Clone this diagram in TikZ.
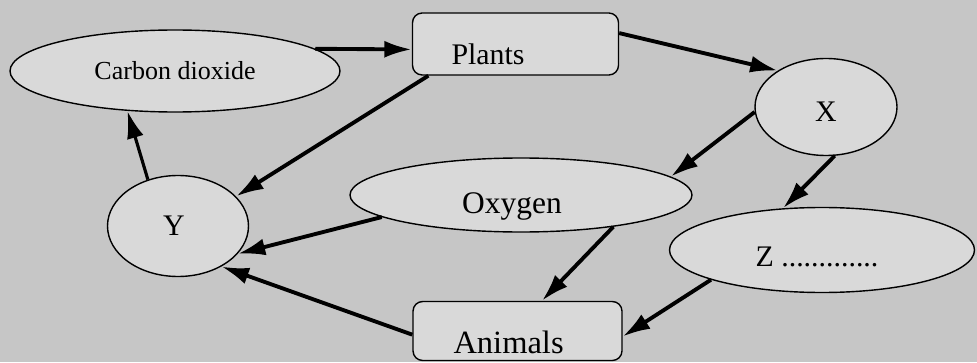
\documentclass[tikz,border=0pt]{standalone}
\usepackage{fontspec}
\setmainfont{Liberation Serif}
\usetikzlibrary{arrows.meta,shapes.geometric}
% 文字在结点内的微移
\newcommand{\nudge}[3]{\raisebox{-#2}[\height][\depth]{\kern#1#3\kern-#1}}
\begin{document}
\begin{tikzpicture}[font=\fontsize{17}{20}\selectfont,
  oval/.style={draw, thick, ellipse, fill=gray!30, inner sep=0pt},
  box/.style={draw, thick, rounded corners=5.5pt, fill=gray!30, minimum width=4.12cm, minimum height=1.24cm, text width=2.56cm, align=left},
  flow/.style={line width=2.2pt, -{Latex[length=5.5mm,width=3.4mm]}}]
  % 背景
  \fill[gray!45] (0,0) rectangle (19.54,7.24);
  \useasboundingbox (0,0) rectangle (19.54,7.24);
  % 椭圆结点
  \node[oval, minimum width=6.6cm, minimum height=1.64cm, font=\fontsize{14.8}{17}\selectfont] (co2) at (3.5,5.82) {Carbon dioxide};
  \node[oval, minimum width=2.84cm, minimum height=1.94cm] (x) at (16.52,5.1) {\nudge{0cm}{0.1cm}{X}};
  \node[oval, minimum width=6.84cm, minimum height=1.48cm, font=\fontsize{17.9}{20}\selectfont] (oxygen) at (10.42,3.34) {\nudge{-0.18cm}{0.23cm}{Oxygen}};
  \node[oval, minimum width=2.82cm, minimum height=2.02cm] (y) at (3.56,2.72) {\nudge{-0.08cm}{0cm}{Y}};
  \node[oval, minimum width=6.1cm, minimum height=1.7cm] (z) at (16.44,2.24) {\nudge{-0.1cm}{0.14cm}{Z .............}};
  % 方框结点
  \node[box] (plants) at (10.31,6.36) {\nudge{0cm}{0.21cm}{Plants}};
  \node[box, minimum width=4.18cm, minimum height=1.18cm, font=\fontsize{18.5}{20}\selectfont] (animals) at (10.35,0.62) {\nudge{0cm}{0.22cm}{Animals}};
  % 箭头
  \draw[flow] (co2.9) -- (plants.183);
  \draw[flow] (plants.6) -- (x.143);
  \draw[flow] (plants.200) -- (y.27);
  \draw[flow, line width=1.8pt] (y.123) -- (co2.220);
  \draw[flow] (x.184) -- (oxygen.7);
  \draw[flow] (x.280) -- (z.133);
  \draw[flow] (oxygen.189) -- (y.335);
  \draw[flow] (oxygen.341) -- (animals.51);
  \draw[flow] (z.195) -- (animals.357);
  \draw[flow] (animals.182) -- (y.317);
\end{tikzpicture}
\end{document}
